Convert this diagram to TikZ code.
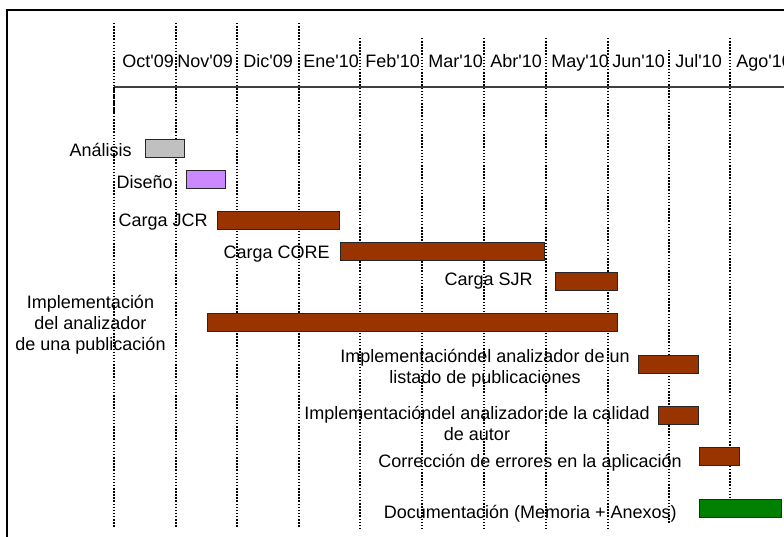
\documentclass[tikz,border=0pt]{standalone}
\usepackage{fontspec}
\setmainfont{Liberation Sans}
\usetikzlibrary{positioning}
\definecolor{gris}{RGB}{192,192,192}
\definecolor{lila}{RGB}{204,136,255}
\definecolor{marron}{RGB}{153,51,0}
\definecolor{verde}{RGB}{0,128,0}
\begin{document}
\begin{tikzpicture}[x=1pt, y=-1pt, thick,
  bar/.style = {draw=black!85, line width=1.3pt, anchor=north west, inner sep=0, minimum height=18pt},
  lab/.style = {inner sep=0, font=\fontsize{18}{21}\selectfont, text height=13pt, text depth=3.8pt},
  multi/.style = {inner sep=0, font=\fontsize{18}{21}\selectfont, align=center},
  grid/.style = {line width=1.6pt, dash pattern=on 1.5pt off 1.6pt}]
\useasboundingbox (0,0) rectangle (784,537);
% marco
\draw[line width=2pt] (784,10) -- (7,10) -- (7,537);
% rejilla
\foreach \x/\t/\b in {114/23/528, 176/23/528, 237/23/528, 299/23/528, 360/38/528, 422/38/528, 484/38/528, 546/38/528, 608/38/528, 669/50/523, 730/38/497}
  \draw[grid] (\x,\t) -- (\x,\b);
\draw[line width=1.5pt, black!75] (114,87) -- (784,87);
\draw[line width=1.5pt, dash pattern=on 5pt off 2pt] (114,87) -- (114,113);
% meses
\foreach \x/\m [count=\i] in {122/Oct, 177/Nov, 243/Dic, 303/Ene, 365/Feb, 428/Mar, 490/Abr, 551/May, 612/Jun, 675/Jul, 736/Ago}
  \node[lab, anchor=base west] (m\i) at (\x,68) {\m\textquotesingle\ifnum\i<4 09\else 10\fi};
% barras
\node[bar, fill=gris, minimum width=39pt] (1) at (145,139) {};
\node[bar, fill=lila, minimum width=39pt] (2) at (186,170) {};
\node[bar, fill=marron, minimum width=122pt] (3) at (217,211) {};
\node[bar, fill=marron, minimum width=204pt] (4) at (340,242) {};
\node[bar, fill=marron, minimum width=62pt] (5) at (555,272) {};
\node[bar, fill=marron, minimum width=410pt] (6) at (207,313) {};
\node[bar, fill=marron, minimum width=60pt] (7) at (638,355) {};
\node[bar, fill=marron, minimum width=40pt] (8) at (658,406) {};
\node[bar, fill=marron, minimum width=40pt] (9) at (699,447) {};
\node[bar, fill=verde, minimum width=82pt] (10) at (699,499) {};
% etiquetas
\node[lab, left=13pt of 1, yshift=-3.4pt] (t1) {Análisis};
\node[lab, left=13pt of 2, yshift=-4.4pt] (t2) {Diseño};
\node[lab, left=9pt of 3, yshift=-1.4pt] (t3) {Carga JCR};
\node[lab, left=10pt of 4, yshift=-2.4pt] (t4) {Carga CORE};
\node[lab, left=22pt of 5, yshift=0.6pt] (t5) {Carga SJR};
\node[multi] (t6) at (90.5,324.5) {Implementación\\del analizador\\de una publicación};
\node[multi, left=8pt of 7, yshift=-3.5pt] (t7) {Implementacióndel analizador de un\\listado de publicaciones};
\node[multi, left=8pt of 8, yshift=-7.5pt] (t8) {Implementacióndel analizador de la calidad\\de autor};
\node[lab, left=17pt of 9, yshift=-6pt] (t9) {Corrección de errores en la aplicación};
\node[lab, left=22pt of 10, yshift=-5pt] (t10) {Documentación (Memoria + Anexos)};
\end{tikzpicture}
\end{document}
